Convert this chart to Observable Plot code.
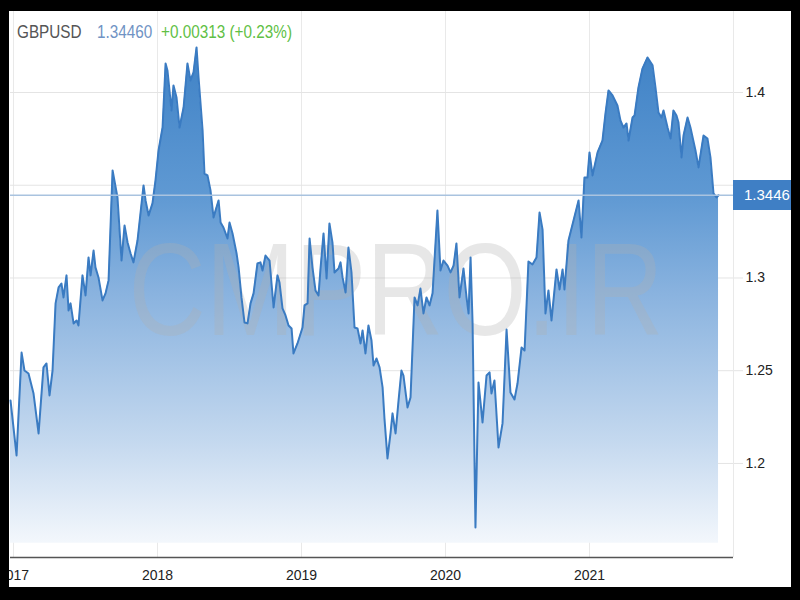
<!DOCTYPE html>
<html><head><meta charset="utf-8">
<script src="https://cdn.jsdelivr.net/npm/d3@7"></script>
<script src="https://cdn.jsdelivr.net/npm/@observablehq/plot@0.6"></script>
<style>
html,body{margin:0;padding:0;background:#000;overflow:hidden;width:800px;height:600px;}
#wrap{position:relative;width:800px;height:600px;background:#fff;overflow:hidden;}
#chart{position:absolute;left:0;top:0;width:800px;height:600px;}
#chart svg{position:absolute;left:0;top:0;}
.t{position:absolute;top:23px;font-family:"Liberation Sans",Arial,sans-serif;font-size:18px;line-height:1;white-space:nowrap;transform:scaleX(0.85);transform-origin:0 0;z-index:2;}
#price{position:absolute;left:733px;width:60px;height:30px;background:#3f7fc5;color:#fff;font-family:"Liberation Sans",Arial,sans-serif;font-size:15px;line-height:30px;padding-left:11px;box-sizing:border-box;z-index:3;}
#frame{position:absolute;left:0;top:0;width:800px;height:600px;box-sizing:border-box;border-style:solid;border-color:#000;border-width:11px 9px 13px 9px;pointer-events:none;z-index:100;}
</style></head>
<body>
<div id="wrap">
  <div id="chart"></div>
  <span class="t" id="sym" style="left:17px;color:#555"></span>
  <span class="t" id="lastq" style="left:97px;color:#7093c4"></span>
  <span class="t" id="chg" style="left:161px;color:#5fbf45"></span>
  <div id="price"></div>
  <div id="frame"></div>
</div>
<script>
const symbol = "GBPUSD";
const quoteText = "1.34460";
const changeText = "+0.00313 (+0.23%)";
const priceLabel = "1.3446";
const watermark = "CMPRO.IR";

const xTicks = [2017, 2018, 2019, 2020, 2021];
const yTicks = [1.2, 1.25, 1.3, 1.35, 1.4];
const yLabelTicks = [1.2, 1.25, 1.3, 1.4];
const xDomain = [2016.979, 2022.0];
const yDomain = [1.1493, 1.4442];
const baseline = 1.157;

// time in decimal years
const time = [
2016.979,2017.021,2017.056,2017.076,2017.104,2017.139,2017.174,2017.208,2017.229,2017.250,
2017.271,2017.292,2017.313,2017.333,2017.347,2017.368,2017.382,2017.396,2017.417,2017.438,
2017.451,2017.479,2017.500,2017.521,2017.535,2017.556,2017.569,2017.590,2017.618,2017.639,
2017.660,2017.688,2017.722,2017.750,2017.771,2017.792,2017.813,2017.833,2017.861,2017.903,
2017.917,2017.938,2017.965,2017.986,2018.007,2018.035,2018.056,2018.069,2018.097,2018.111,
2018.132,2018.153,2018.181,2018.208,2018.229,2018.250,2018.271,2018.285,2018.313,2018.326,
2018.347,2018.368,2018.389,2018.403,2018.424,2018.438,2018.458,2018.486,2018.500,2018.521,
2018.549,2018.563,2018.583,2018.604,2018.625,2018.646,2018.667,2018.694,2018.715,2018.729,
2018.750,2018.778,2018.806,2018.833,2018.847,2018.868,2018.889,2018.910,2018.931,2018.944,
2018.972,2019.007,2019.021,2019.042,2019.056,2019.076,2019.097,2019.118,2019.132,2019.153,
2019.174,2019.194,2019.215,2019.229,2019.257,2019.271,2019.285,2019.306,2019.326,2019.347,
2019.368,2019.389,2019.410,2019.424,2019.444,2019.465,2019.486,2019.500,2019.521,2019.542,
2019.563,2019.576,2019.597,2019.618,2019.632,2019.653,2019.674,2019.694,2019.708,2019.736,
2019.757,2019.785,2019.806,2019.826,2019.847,2019.868,2019.889,2019.910,2019.944,2019.965,
2019.986,2020.014,2020.035,2020.056,2020.076,2020.097,2020.125,2020.146,2020.160,2020.174,
2020.188,2020.208,2020.229,2020.257,2020.285,2020.306,2020.319,2020.340,2020.368,2020.396,
2020.424,2020.451,2020.479,2020.500,2020.528,2020.549,2020.576,2020.604,2020.632,2020.653,
2020.674,2020.694,2020.715,2020.736,2020.771,2020.792,2020.813,2020.826,2020.854,2020.889,
2020.924,2020.944,2020.965,2020.986,2021.000,2021.021,2021.056,2021.090,2021.111,2021.132,
2021.160,2021.194,2021.215,2021.236,2021.257,2021.271,2021.299,2021.313,2021.340,2021.368,
2021.403,2021.438,2021.458,2021.479,2021.500,2021.514,2021.542,2021.563,2021.583,2021.604,
2021.618,2021.639,2021.653,2021.681,2021.701,2021.736,2021.757,2021.792,2021.819,2021.840,
2021.861,2021.882,2021.896
];

const rate = [
1.2340,1.2043,1.2598,1.2501,1.2485,1.2377,1.2162,1.2518,1.2539,1.2367,
1.2501,1.2863,1.2949,1.2970,1.2895,1.3014,1.2825,1.2863,1.2755,1.2771,
1.2744,1.3014,1.2906,1.3111,1.3014,1.3148,1.3057,1.3003,1.2879,1.2917,
1.2987,1.3580,1.3434,1.3094,1.3283,1.3191,1.3132,1.3084,1.3202,1.3499,
1.3418,1.3337,1.3402,1.3526,1.3687,1.3811,1.4156,1.4119,1.3903,1.4038,
1.3973,1.3811,1.3919,1.4156,1.4065,1.4108,1.4243,1.4081,1.3795,1.3563,
1.3553,1.3472,1.3326,1.3364,1.3418,1.3299,1.3272,1.3213,1.3299,1.3240,
1.3132,1.3057,1.2895,1.2760,1.2755,1.2863,1.2917,1.3078,1.3084,1.3040,
1.3121,1.3094,1.2841,1.3014,1.2976,1.2836,1.2798,1.2744,1.2728,1.2593,
1.2647,1.2733,1.2852,1.2863,1.3213,1.3057,1.2933,1.2906,1.3051,1.3240,
1.2997,1.3294,1.3191,1.3030,1.3051,1.3084,1.3003,1.2922,1.3164,1.3030,
1.2733,1.2728,1.2647,1.2717,1.2593,1.2744,1.2663,1.2528,1.2566,1.2518,
1.2410,1.2243,1.2027,1.2162,1.2270,1.2162,1.2340,1.2501,1.2474,1.2302,
1.2356,1.2895,1.2852,1.2943,1.2809,1.2895,1.2852,1.2917,1.3364,1.3040,
1.3094,1.3067,1.3030,1.3067,1.3186,1.2895,1.3051,1.2895,1.2809,1.3111,
1.2755,1.1655,1.2437,1.2221,1.2474,1.2491,1.2377,1.2447,1.2086,1.2216,
1.2722,1.2383,1.2345,1.2431,1.2625,1.2609,1.3089,1.3073,1.3111,1.3353,
1.3261,1.2809,1.2933,1.2771,1.3046,1.2938,1.3046,1.2938,1.3202,1.3310,
1.3418,1.3218,1.3542,1.3542,1.3677,1.3553,1.3677,1.3741,1.3887,1.4011,
1.3984,1.3930,1.3849,1.3811,1.3833,1.3741,1.3865,1.3876,1.4027,1.4129,
1.4189,1.4146,1.4027,1.3892,1.3865,1.3903,1.3811,1.3752,1.3903,1.3876,
1.3838,1.3650,1.3768,1.3865,1.3811,1.3687,1.3596,1.3768,1.3752,1.3650,
1.3456,1.3434,1.3446
];

const data = time.map((t, i) => ({t, r: rate[i]}));
const last = rate[rate.length - 1];
const font = '"Liberation Sans",Arial,sans-serif';

const chart = Plot.plot({
  width: 800, height: 600,
  marginLeft: 10, marginRight: 67, marginTop: 10, marginBottom: 43,
  style: {background: "transparent", fontFamily: font, fontSize: "14px", color: "#222"},
  x: {type: "linear", domain: xDomain, axis: null, label: null},
  y: {domain: yDomain, axis: null, label: null},
  marks: [
    Plot.gridX(xTicks, {stroke: "#e9e9e9", strokeOpacity: 1}),
    Plot.ruleX([xDomain[1]], {stroke: "#e9e9e9"}),
    Plot.gridY(yTicks, {stroke: "#e4e4e4", strokeOpacity: 1}),
    Plot.areaY(data, {x: "t", y1: baseline, y2: "r", fill: "url(#gbpGrad)"}),
    Plot.text([watermark], {frameAnchor: "middle", dx: 24, dy: 9, fontSize: 132, fontFamily: font, fill: "#b0b0b0", fillOpacity: 0.3, className: "wm"}),
    Plot.lineY(data, {x: "t", y: "r", stroke: "#3a7bc2", strokeWidth: 2}),
    Plot.ruleY([last], {stroke: "#a9c3df", strokeWidth: 1.5}),
    Plot.ruleY([yDomain[0]], {stroke: "#555", strokeWidth: 1.5}),
    Plot.axisX({ticks: xTicks, tickFormat: d => String(d), tickSize: 0, tickPadding: 13, fontSize: 14, fill: "#222", label: null}),
    Plot.axisY({anchor: "right", ticks: yLabelTicks, tickFormat: d => String(d), tickSize: 9, tickPadding: 3, stroke: "#e4e4e4", fill: "#222", fontSize: 14, textAnchor: "start", label: null})
  ]
});

const defs = d3.select(chart).insert("defs", ":first-child");
const g = defs.append("linearGradient").attr("id", "gbpGrad").attr("x1", 0).attr("y1", 0).attr("x2", 0).attr("y2", 1);
[[0, "#3f82c6"], [0.3, "#5f99d3"], [0.5, "#8ab3df"], [0.8, "#c5d9ef"], [1, "#f3f7fc"]]
  .forEach(([o, c]) => g.append("stop").attr("offset", o).attr("stop-color", c));
d3.select(chart).selectAll(".wm text").attr("textLength", 535).attr("lengthAdjust", "spacingAndGlyphs");

document.getElementById("chart").appendChild(chart);
document.getElementById("sym").textContent = symbol;
document.getElementById("lastq").textContent = quoteText;
document.getElementById("chg").textContent = changeText;
const price = document.getElementById("price");
price.textContent = priceLabel;
price.style.top = (chart.scale("y").apply(last) - 15) + "px";
</script>
</body></html>
